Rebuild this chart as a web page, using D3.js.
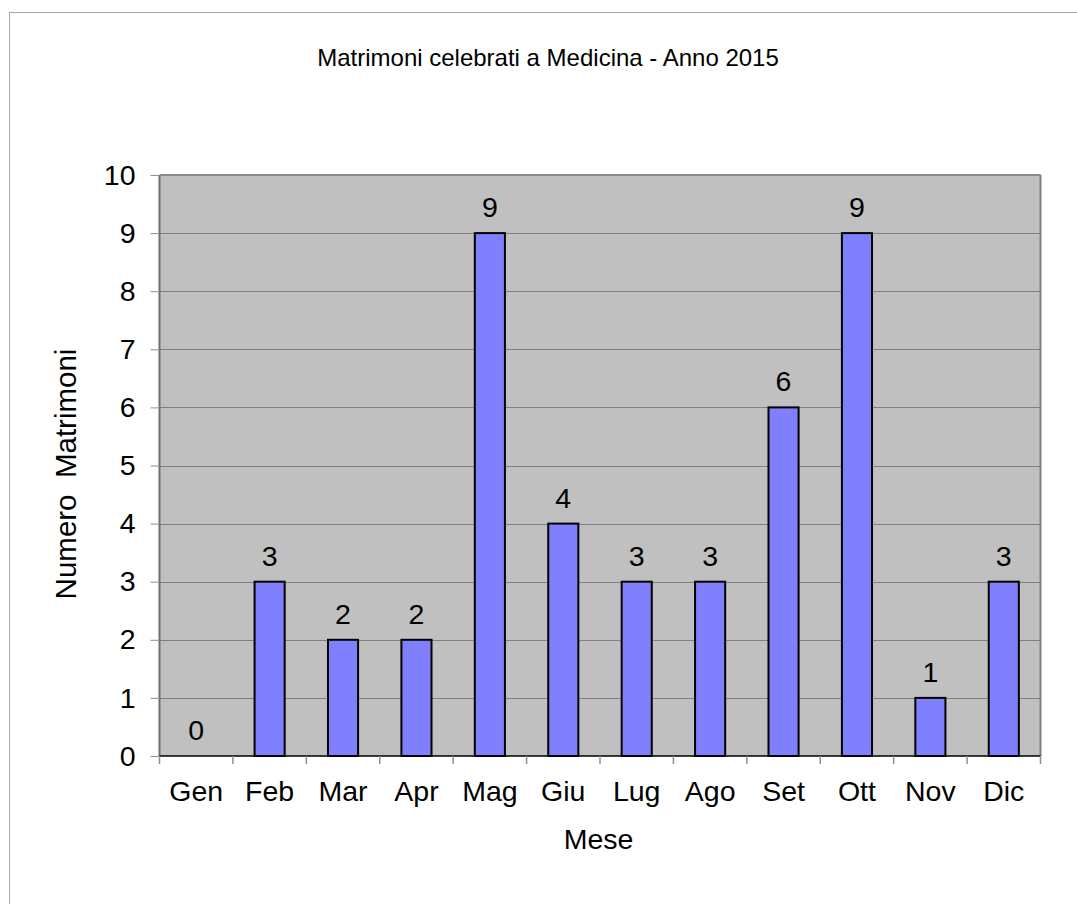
<!DOCTYPE html>
<html>
<head>
<meta charset="utf-8">
<script src="https://cdn.jsdelivr.net/npm/d3@7"></script>
<style>
  html, body { margin: 0; padding: 0; background: #ffffff; }
  svg { display: block; }
  text { font-family: "Liberation Sans", Arial, sans-serif; fill: #000; }
</style>
</head>
<body>
<svg id="chart" width="1077" height="904"></svg>
<script>
const months = ["Gen", "Feb", "Mar", "Apr", "Mag", "Giu", "Lug", "Ago", "Set", "Ott", "Nov", "Dic"];
const marriages = [0, 3, 2, 2, 9, 4, 3, 3, 6, 9, 1, 3];
const yTicks = [0, 1, 2, 3, 4, 5, 6, 7, 8, 9, 10];
const titleText = "Matrimoni celebrati a Medicina - Anno 2015";
const xTitle = "Mese";
const yTitle = "Numero  Matrimoni";

const svg = d3.select("#chart");
const plot = { left: 159.5, right: 1040.5, top: 175, bottom: 756 };
const FS = 28.5;

// outer frame
svg.append("rect")
  .attr("x", 9.5).attr("y", 12.5)
  .attr("width", 1200).attr("height", 1200)
  .attr("fill", "#fff").attr("stroke", "#a6a6a6").attr("stroke-width", 1);

const x = d3.scaleBand().domain(months).range([plot.left, plot.right]).paddingInner(0).paddingOuter(0);
const y = d3.scaleLinear().domain([0, 10]).range([plot.bottom, plot.top]);

// plot background
svg.append("rect")
  .attr("x", plot.left).attr("y", plot.top)
  .attr("width", plot.right - plot.left).attr("height", plot.bottom - plot.top)
  .attr("fill", "#c0c0c0");

// gridlines
svg.append("g").selectAll("line").data(yTicks.filter(d => d > 0 && d < 10)).join("line")
  .attr("x1", plot.left).attr("x2", plot.right)
  .attr("y1", d => Math.round(y(d)) + 0.5).attr("y2", d => Math.round(y(d)) + 0.5)
  .attr("stroke", "#808080").attr("stroke-width", 1);

// plot borders
svg.append("line").attr("x1", plot.left).attr("x2", plot.right)
  .attr("y1", plot.top).attr("y2", plot.top).attr("stroke", "#8a8a8a").attr("stroke-width", 2);
svg.append("line").attr("x1", plot.right).attr("x2", plot.right)
  .attr("y1", plot.top).attr("y2", plot.bottom).attr("stroke", "#808080").attr("stroke-width", 2);
svg.append("line").attr("x1", plot.left).attr("x2", plot.left)
  .attr("y1", plot.top).attr("y2", plot.bottom).attr("stroke", "#6e6e6e").attr("stroke-width", 2);

// bars
const bw = x.bandwidth() * 0.41;
svg.append("g").selectAll("rect").data(months.map((m, i) => ({ m, v: marriages[i] })).filter(d => d.v > 0)).join("rect")
  .attr("x", d => x(d.m) + (x.bandwidth() - bw) / 2)
  .attr("y", d => y(d.v))
  .attr("width", bw)
  .attr("height", d => y(0) - y(d.v))
  .attr("fill", "#8080ff")
  .attr("stroke", "#000").attr("stroke-width", 2);

// x axis line
svg.append("line").attr("x1", plot.left).attr("x2", plot.right)
  .attr("y1", plot.bottom).attr("y2", plot.bottom).attr("stroke", "#000").attr("stroke-width", 1.5);

// y axis ticks and labels
const yAxis = d3.axisLeft(y).tickValues(yTicks).tickSize(9).tickPadding(15).tickFormat(d3.format("d"));
const yg = svg.append("g").attr("transform", `translate(${plot.left},0)`).call(yAxis);
yg.select(".domain").remove();
yg.selectAll(".tick line").attr("stroke", "#909090");
yg.selectAll(".tick text").attr("font-size", FS).attr("font-family", "Liberation Sans, Arial, sans-serif").attr("fill", "#000");

// x axis ticks at band boundaries
const bounds = months.map(m => x(m)).concat([plot.right]);
svg.append("g").selectAll("line").data(bounds).join("line")
  .attr("x1", d => d).attr("x2", d => d)
  .attr("y1", plot.bottom).attr("y2", plot.bottom + 8)
  .attr("stroke", "#909090").attr("stroke-width", 1.5);

svg.append("g").selectAll("text").data(months).join("text")
  .attr("x", d => x(d) + x.bandwidth() / 2)
  .attr("y", 801)
  .attr("text-anchor", "middle")
  .attr("font-size", FS)
  .text(d => d);

// value labels
svg.append("g").selectAll("text").data(months.map((m, i) => ({ m, v: marriages[i] }))).join("text")
  .attr("x", d => x(d.m) + x.bandwidth() / 2)
  .attr("y", d => y(d.v) - 16)
  .attr("text-anchor", "middle")
  .attr("font-size", FS)
  .text(d => d.v);

// titles
svg.append("text").attr("x", 548).attr("y", 66).attr("text-anchor", "middle")
  .attr("font-size", 24).text(titleText);
svg.append("text").attr("x", 598.5).attr("y", 849).attr("text-anchor", "middle")
  .attr("font-size", FS).text(xTitle);
svg.append("text").attr("transform", "translate(76,474) rotate(-90)").attr("text-anchor", "middle")
  .attr("font-size", 29.5).attr("xml:space", "preserve").style("white-space", "pre").text(yTitle);
</script>
</body>
</html>
